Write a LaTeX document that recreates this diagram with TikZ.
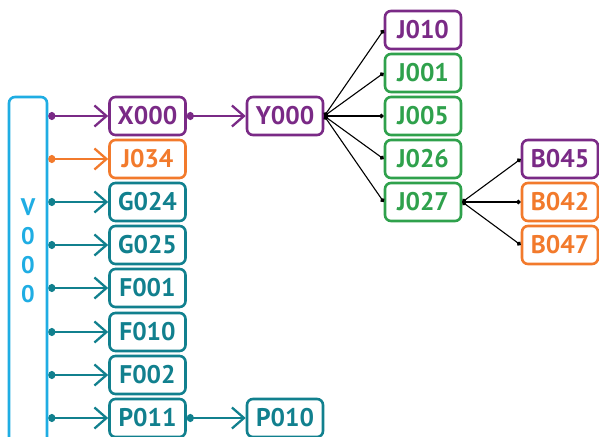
\documentclass[tikz,border=0pt]{standalone}
\usepackage{fontspec}
\setmainfont{PT Sans}
\usetikzlibrary{arrows.meta}
\definecolor{cpur}{HTML}{7A2A86}
\definecolor{cora}{HTML}{F27A2C}
\definecolor{ctea}{HTML}{11808E}
\definecolor{cgre}{HTML}{2FA14C}
\definecolor{csky}{HTML}{1FADE3}
\tikzset{
  box/.style={draw=#1, text=#1, rounded corners=6pt, line width=2.6pt,
    minimum width=76pt, minimum height=38pt, inner sep=0pt,
    font=\fontsize{25.5}{25.5}\selectfont\bfseries},
  conn/.style={draw=#1, line width=2.3pt,
    {Circle[length=7pt,width=8pt]}-{Straight Barb[length=12pt,width=21pt,line width=2.3pt]}},
  thin/.style={draw=black, line width=1.1pt,
    {Circle[length=4.5pt]}-{Circle[length=4.5pt]}},
}
\begin{document}
\begin{tikzpicture}[x=1pt,y=-1pt]
\useasboundingbox (0,0) rectangle (599,436);
% V000
\node[draw=csky, rounded corners=6pt, line width=2.6pt, minimum width=38pt, minimum height=348pt, inner sep=0pt] (V) at (28,271) {};
\node[text=csky, font=\fontsize{24}{29}\selectfont\bfseries, align=center] (Vt) at (28,251) {V\\0\\0\\0};
% left column
\node[box=cpur] (X000) at (147.5,116) {X000};
\node[box=cora] (J034) at (147.5,159) {J034};
\node[box=ctea] (G024) at (147.5,202) {G024};
\node[box=ctea] (G025) at (147.5,245) {G025};
\node[box=ctea] (F001) at (147.5,288) {F001};
\node[box=ctea] (F010) at (147.5,332) {F010};
\node[box=ctea] (F002) at (147.5,375) {F002};
\node[box=ctea] (P011) at (147.5,418) {P011};
\node[box=ctea] (P010) at (285,418) {P010};
\node[box=cpur] (Y000) at (285,116) {Y000};
% J column
\node[box=cpur] (J010) at (423,30) {J010};
\node[box=cgre] (J001) at (423,73) {J001};
\node[box=cgre] (J005) at (423,116) {J005};
\node[box=cgre] (J026) at (423,159) {J026};
\node[box=cgre] (J027) at (423,202) {J027};
% B column
\node[box=cpur] (B045) at (560,159) {B045};
\node[box=cora] (B042) at (560,202) {B042};
\node[box=cora] (B047) at (560,245) {B047};
% connectors from V
\draw[conn=cpur] (X000.west -| V.east) -- (X000.west);
\draw[conn=cora] (J034.west -| V.east) -- (J034.west);
\foreach \n in {G024,G025,F001,F010,F002,P011}
  \draw[conn=ctea] (\n.west -| V.east) -- (\n.west);
\draw[conn=cpur] (X000.east) -- (Y000.west);
\draw[conn=ctea] (P011.east) -- (P010.west);
% black fan
\foreach \n in {J010,J001,J005,J026,J027}
  \draw[thin] (Y000.east) -- (\n.west);
\foreach \n in {B045,B042,B047}
  \draw[thin] (J027.east) -- (\n.west);
\end{tikzpicture}
\end{document}
